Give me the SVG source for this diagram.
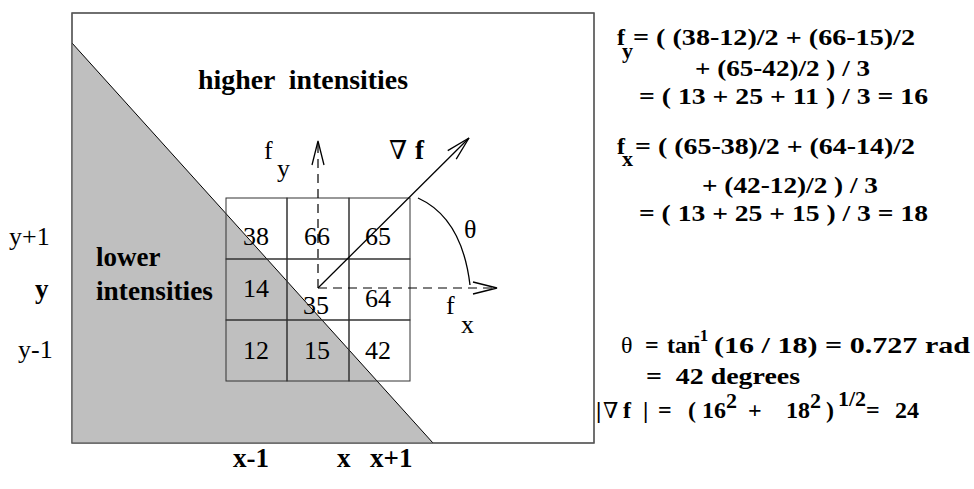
<svg xmlns="http://www.w3.org/2000/svg" width="974" height="489" viewBox="0 0 974 489">
<style>
text{fill:#000;white-space:pre}
.r{font-family:'Liberation Serif','DejaVu Serif',serif;font-size:26px}
.b{font-family:'Liberation Serif','DejaVu Serif',serif;font-size:27px;font-weight:700}
.eq{font-family:'Liberation Serif','DejaVu Serif',serif;font-size:24px;font-weight:700}
.sub{font-family:'Liberation Serif','DejaVu Serif',serif;font-size:22px;font-weight:700}
.sup{font-family:'Liberation Serif','DejaVu Serif',serif;font-size:17px;font-weight:700}
.cell{fill:none;stroke:#333;stroke-width:1}
.dash{fill:none;stroke:#000;stroke-width:1.2;stroke-dasharray:9,6}
.arr{fill:none;stroke:#000;stroke-width:1.3}
</style>
<defs>
<marker id="v" markerUnits="userSpaceOnUse" markerWidth="30" markerHeight="16" refX="24" refY="8" orient="auto" overflow="visible">
<path d="M0,2 L24,8 L0,14" fill="none" stroke="#000" stroke-width="1.3"/>
</marker>
</defs>
<g id="image-region">
<rect x="72" y="13" width="522" height="430" fill="#fff" stroke="#555" stroke-width="1.2"/>
<polygon points="72,43 433,443 72,443" fill="#bfbfbf"/>
<line x1="72" y1="43" x2="433" y2="443" stroke="#000" stroke-width="1"/>
<rect x="72" y="13" width="522" height="430" fill="none" stroke="#555" stroke-width="1.2"/>
<text class="b" x="198" y="89" textLength="210" lengthAdjust="spacingAndGlyphs">higher  intensities</text>
<text class="b" x="96" y="266">lower</text>
<text class="b" x="96" y="300" textLength="117" lengthAdjust="spacingAndGlyphs">intensities</text>
</g>
<g id="grid">
<rect class="cell" x="226" y="198" width="61" height="61"/>
<rect class="cell" x="287" y="198" width="62" height="61"/>
<rect class="cell" x="349" y="198" width="61" height="61"/>
<rect class="cell" x="226" y="259" width="61" height="61"/>
<rect class="cell" x="287" y="259" width="62" height="61"/>
<rect class="cell" x="349" y="259" width="61" height="61"/>
<rect class="cell" x="226" y="320" width="61" height="61"/>
<rect class="cell" x="287" y="320" width="62" height="61"/>
<rect class="cell" x="349" y="320" width="61" height="61"/>
<text class="r" x="256" y="245" text-anchor="middle">38</text>
<text class="r" x="317" y="245" text-anchor="middle">66</text>
<text class="r" x="378" y="245" text-anchor="middle">65</text>
<text class="r" x="256" y="297" text-anchor="middle">14</text>
<text class="r" x="316" y="314" text-anchor="middle">35</text>
<text class="r" x="378" y="307" text-anchor="middle">64</text>
<text class="r" x="256" y="359" text-anchor="middle">12</text>
<text class="r" x="317" y="359" text-anchor="middle">15</text>
<text class="r" x="378" y="359" text-anchor="middle">42</text>
</g>
<g id="connectors">
<line class="dash" x1="318" y1="288" x2="318" y2="141" marker-end="url(#v)"/>
<line class="dash" x1="318" y1="288" x2="497" y2="288" marker-end="url(#v)"/>
<line class="arr" x1="318" y1="288" x2="469" y2="138" marker-end="url(#v)"/>
<path class="arr" d="M418,198 Q462,218 470,285"/>
</g>
<g id="vector-labels">
<text class="r" x="264" y="159">f</text>
<text class="r" x="277" y="177">y</text>
<text class="r" x="389" y="159">∇</text>
<text class="b" x="415" y="159">f</text>
<text class="r" x="464" y="238">θ</text>
<text class="r" x="446" y="314">f</text>
<text class="r" x="461" y="333">x</text>
</g>
<g id="axis-labels">
<text class="r" x="9" y="245">y+1</text>
<text class="b" x="35" y="298">y</text>
<text class="r" x="18" y="358">y-1</text>
<text class="b" x="233" y="467">x-1</text>
<text class="b" x="337" y="467">x</text>
<text class="b" x="370" y="467">x+1</text>
</g>
<g id="equations">
<text class="eq" x="617" y="45">f</text>
<text class="sub" x="622" y="58">y</text>
<text class="eq" x="633" y="45" textLength="282" lengthAdjust="spacingAndGlyphs">= ( (38-12)/2 + (66-15)/2</text>
<text class="eq" x="695" y="76" textLength="175" lengthAdjust="spacingAndGlyphs">+ (65-42)/2 ) / 3</text>
<text class="eq" x="639" y="104" textLength="289" lengthAdjust="spacingAndGlyphs">= ( 13 + 25 + 11 ) / 3 = 16</text>
<text class="eq" x="617" y="154">f</text>
<text class="sub" x="622" y="166">x</text>
<text class="eq" x="635" y="154" textLength="280" lengthAdjust="spacingAndGlyphs">= ( (65-38)/2 + (64-14)/2</text>
<text class="eq" x="702" y="193" textLength="176" lengthAdjust="spacingAndGlyphs">+ (42-12)/2 ) / 3</text>
<text class="eq" x="639" y="221" textLength="289" lengthAdjust="spacingAndGlyphs">= ( 13 + 25 + 15 ) / 3 = 18</text>
<text class="r" x="621" y="353" style="font-size:24px">θ</text>
<text class="eq" x="645" y="353">=</text>
<text class="eq" x="667" y="353">tan</text>
<text class="sup" x="694" y="341">-1</text>
<text class="eq" x="714" y="353" textLength="256" lengthAdjust="spacingAndGlyphs">(16 / 18) = 0.727 rad</text>
<text class="eq" x="646" y="384" textLength="154" lengthAdjust="spacingAndGlyphs">=  42 degrees</text>
<text class="eq" x="596" y="418">|</text>
<text class="r" x="603" y="418" style="font-size:22px">∇</text>
<text class="eq" x="623" y="418">f</text>
<text class="eq" x="643" y="418">|</text>
<text class="eq" x="658" y="418">=</text>
<text class="eq" x="688" y="418">( 16</text>
<text class="sup" x="726" y="408" style="font-size:22px">2</text>
<text class="eq" x="748" y="418">+</text>
<text class="eq" x="786" y="418">18</text>
<text class="sup" x="810" y="408" style="font-size:22px">2</text>
<text class="eq" x="826" y="418">)</text>
<text class="sup" x="838" y="406" style="font-size:22px">1/2</text>
<text class="eq" x="866" y="418">=</text>
<text class="eq" x="895" y="418">24</text>
</g>
</svg>
